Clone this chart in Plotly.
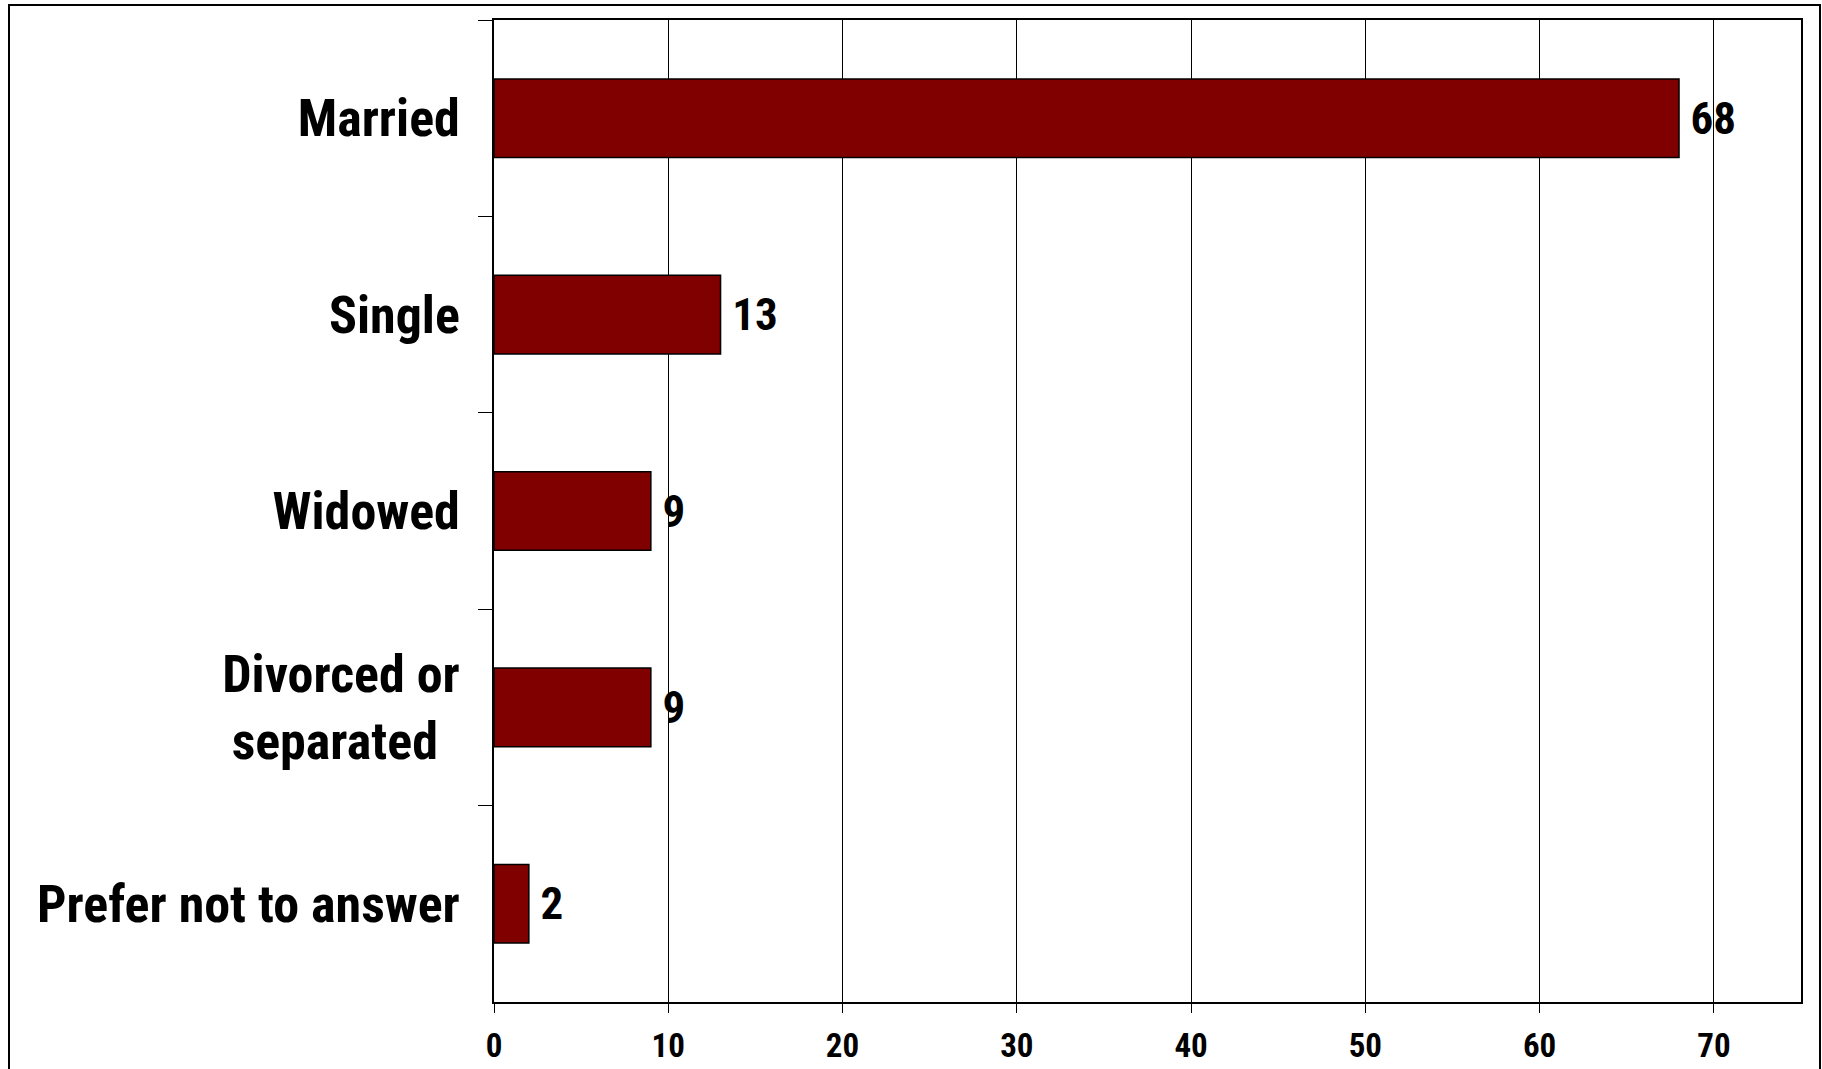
import plotly.graph_objects as go

# Marital status of respondents (%)
categories = ["Married", "Single", "Widowed", "Divorced or<br>separated\u00a0\u2009", "Prefer not to answer"]
values = [68, 13, 9, 9, 2]
x_ticks = [0, 10, 20, 30, 40, 50, 60, 70]

FONT = "Liberation Sans Narrow, Arial Narrow, Roboto Condensed, Liberation Sans, Arial, sans-serif"
W, H = 1822, 1069
L, R, T, B = 494, 21, 20, 67

fig = go.Figure(
    go.Bar(
        x=values,
        y=categories,
        orientation="h",
        width=0.4,
        marker=dict(color="#800000", line=dict(color="#000000", width=1.5)),
        text=values,
        texttemplate="\u2009%{x}",
        textposition="outside",
        constraintext="none",
        cliponaxis=False,
        textfont=dict(family=FONT, size=45, color="#000000", weight="bold"),
        hoverinfo="skip",
    )
)

plot_w = W - L - R
plot_h = H - T - B
# Outer frame around the whole chart
fig.add_shape(
    type="rect",
    xref="paper", yref="paper",
    x0=(9 - L) / plot_w, x1=(W - 2 - L) / plot_w,
    y0=(H - B - (H + 10)) / plot_h, y1=(H - B - 5) / plot_h,
    line=dict(color="#000000", width=2),
    layer="below",
)

fig.update_layout(
    width=W,
    height=H,
    margin=dict(l=L, r=R, t=T, b=B, pad=0, autoexpand=False),
    paper_bgcolor="#ffffff",
    plot_bgcolor="#ffffff",
    showlegend=False,
    font=dict(family=FONT, color="#000000"),
    bargap=0.6,
)

fig.update_xaxes(
    automargin=False,
    range=[0, 75],
    tickmode="array",
    tickvals=x_ticks,
    ticktext=[str(v) for v in x_ticks],
    showgrid=True,
    gridcolor="#000000",
    gridwidth=1,
    zeroline=False,
    showline=True,
    linecolor="#000000",
    linewidth=2,
    mirror=True,
    ticks="outside",
    ticklen=9,
    tickwidth=1,
    tickcolor="#000000",
    tickfont=dict(family=FONT, size=33, color="#000000", weight="bold"),
    ticklabelstandoff=4,
)

fig.update_yaxes(
    automargin=False,
    categoryorder="array",
    categoryarray=categories,
    autorange="reversed",
    showgrid=False,
    zeroline=False,
    showline=True,
    linecolor="#000000",
    linewidth=1.5,
    mirror=True,
    ticks="outside",
    tickson="boundaries",
    ticklen=14,
    tickwidth=1,
    tickcolor="#000000",
    tickfont=dict(family=FONT, size=52, color="#000000", weight="bold"),
    ticklabelstandoff=22,
)

fig.write_html("out.html")
